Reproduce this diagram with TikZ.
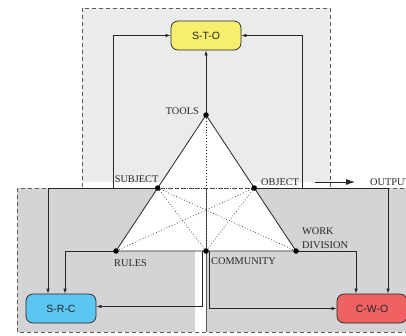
\documentclass[tikz,border=0pt]{standalone}
\usepackage{fontspec}
\setmainfont{Liberation Serif}
\setsansfont{Liberation Sans}
\usetikzlibrary{arrows.meta,calc}

\definecolor{paleBox}{HTML}{EBEBEB}
\definecolor{darkBox}{HTML}{D4D4D6}
\definecolor{stoYellow}{HTML}{F6EE6C}
\definecolor{srcBlue}{HTML}{5CC6F2}
\definecolor{cwoRed}{HTML}{EF6264}
\definecolor{frameGray}{HTML}{5A5A5A}
\definecolor{ink}{HTML}{262626}

\begin{document}
\begin{tikzpicture}[x=1pt,y=-1pt,
  frame/.style={draw=frameGray, line width=1pt, dash pattern=on 4pt off 3pt},
  stage/.style={draw=ink, line width=0.7pt, rounded corners=7pt,
    minimum width=70pt, minimum height=29pt, inner sep=0pt,
    font=\sffamily\fontsize{10.5}{12}\selectfont, text=ink},
  dot/.style={circle, fill=black, inner sep=0pt, minimum size=5.5pt},
  lbl/.style={font=\fontsize{10.3}{12}\selectfont, text=ink, inner sep=0pt},
  link/.style={draw=ink, line width=0.7pt, -{Latex[length=5pt,width=3.4pt]}},
  edge/.style={draw=ink, line width=0.8pt},
  hint/.style={draw=ink, line width=0.7pt, dash pattern=on 0.7pt off 2.2pt},
]
\useasboundingbox (0,0) rectangle (406,335);
\clip (0,0) rectangle (406,335);

% vertices of the activity triangle
\coordinate (tools)     at (206,115);
\coordinate (subject)   at (157.7,188);
\coordinate (object)    at (254.3,188);
\coordinate (rules)     at (116,251);
\coordinate (community) at (206,251);
\coordinate (work)      at (296,251);
\coordinate (leftRise)  at (113,188);
\coordinate (rightRise) at (302,188);

% shaded sub-system areas
\fill[paleBox] (82,8) rectangle (330,182);
\fill[darkBox] (17,188) rectangle (195,332);
\fill[darkBox] (206,188) rectangle (420,332);
\fill[white] (tools) -- (rules) -- (work) -- cycle;

% dashed frames
\draw[frame] (82,187) -- (82,8) -- (330,8) -- (330,187);
\draw[frame] (17,188) rectangle (206,332);
\draw[frame] (206,188) rectangle (420,332);

% sub-triangle nodes
\node[stage, fill=stoYellow] (sto) at (206,35.5) {S-T-O};
\node[stage, fill=srcBlue]   (src) at (61,308.5) {S-R-C};
\node[stage, fill=cwoRed]    (cwo) at (372,308.5) {C-W-O};

% triangle outline and inner links
\draw[edge] (tools) -- (rules) -- (work) -- cycle;
\draw[hint] (tools) -- (community);
\draw[hint] (subject) -- (object);
\draw[hint] (subject) -- (community);
\draw[hint] (subject) -- (work);
\draw[hint] (object) -- (community);
\draw[hint] (object) -- (rules);

% connectors to the sub-triangles
\draw[link] (tools) -- (sto);
\draw[link] (subject) -- (leftRise) |- (sto);
\draw[link] (object) -- (rightRise) |- (sto);
\draw[link] (subject) -| ([xshift=-13pt]src.north);
\draw[link] (rules) -| ([xshift=4pt]src.north);
\draw[link] ([xshift=-4pt]community) |- ([yshift=2pt]src.east);
\draw[link] ([xshift=3pt]community) |- (cwo.west);
\draw[link] (work) -| ([xshift=-16pt]cwo.north);
\draw[link] (object) -| ([xshift=16pt]cwo.north);

% vertex dots
\foreach \v in {tools,subject,object,rules,community,work}
  \node[dot] (\v-dot) at (\v) {};

% vertex labels
\node[lbl, anchor=east] (tools-lbl)     at (199,111)   {TOOLS};
\node[lbl, anchor=east] (subject-lbl)   at (158.5,179.5) {SUBJECT};
\node[lbl, anchor=west] (object-lbl)    at (261,182.5) {OBJECT};
\node[lbl, anchor=west] (output-lbl)    at (370,182)   {OUTPUT};
\node[lbl, anchor=west] (rules-lbl)     at (114,263)   {RULES};
\node[lbl, anchor=west] (community-lbl) at (211,261.5) {COMMUNITY};
\node[lbl, anchor=west] (work-lbl)      at (302,231.5) {WORK};
\node[lbl, anchor=west] (division-lbl)  at (302,245)   {DIVISION};

% output arrow
\draw[draw=ink, line width=0.8pt, -{Latex[length=9pt,width=6pt]}]
  ([xshift=-55pt]output-lbl.west) -- ([xshift=-15pt]output-lbl.west);
\end{tikzpicture}
\end{document}
